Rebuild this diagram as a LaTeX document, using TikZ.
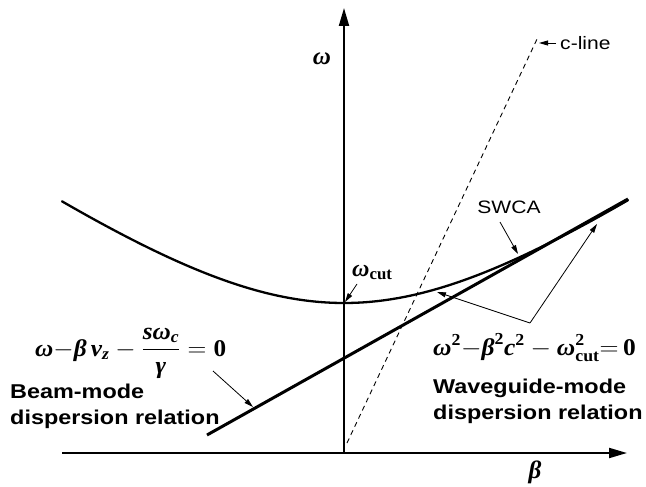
\documentclass[tikz,border=0pt]{standalone}
\usepackage{amsmath}
\usepackage{fontspec}
\setmainfont{Liberation Serif}
\newfontfamily\tnrf{Liberation Serif}
\newfontfamily\arialf{Liberation Sans}
\usetikzlibrary{arrows.meta}
\newcommand\bgi[1]{\text{\tnrf\bfseries\itshape #1}}
\newcommand\bup[1]{\text{\tnrf\bfseries #1}}
\tikzset{
  axis/.style={line width=2pt,-{Triangle[length=18pt,width=10pt]}},
  curve/.style={line width=2.3pt,line cap=round},
  beamline/.style={line width=3pt},
  clinestyle/.style={line width=0.9pt,dash pattern=on 5pt off 4pt},
  arr/.style={line width=0.8pt,-{Triangle[length=9pt,width=5pt]}},
  sanslbl/.style={font=\arialf\fontsize{18}{20}\selectfont,xscale=1.17,inner sep=0pt},
  boldlbl/.style={font=\arialf\bfseries\fontsize{20}{26}\selectfont,align=left,xscale=1.17,inner sep=0pt},
  eqn/.style={font=\tnrf\fontsize{24}{26}\selectfont,inner sep=0pt},
}
\begin{document}
\begin{tikzpicture}[x=1pt,y=-1pt]
\useasboundingbox (0,0) rectangle (646,487);
% axes
\coordinate (o) at (344,453);
\coordinate (xl) at (62,453);
\coordinate (xr) at (627,453);
\coordinate (yt) at (344,8);
\draw[axis] (xl) -- (xr);
\draw[axis] (o) -- (yt);
% c-line
\coordinate (cb) at (347,443);
\coordinate (ct) at (538,37);
\draw[clinestyle] (cb) -- (ct);
% waveguide-mode hyperbola
\draw[curve] plot[domain=-282:284,samples=80,smooth] ({344+\x},{455-100*sqrt(1.52*1.52+(0.0072*\x)*(0.0072*\x))});
% beam line
\coordinate (bl) at (207,435);
\coordinate (br) at (628,199);
\draw[beamline] (bl) -- (br);
% labels
\node[eqn,font=\tnrf\fontsize{25}{27}\selectfont] (om) at (322,59) {$\bgi{ω}$};
\node[eqn,font=\tnrf\fontsize{25}{27}\selectfont] (be) at (535,472) {$\bgi{β}$};
\node[sanslbl,anchor=west] (cl) at (560,43) {c-line};
\node[sanslbl] (sw) at (509,207) {SWCA};
\node[eqn,anchor=base west] (oc) at (352,276) {$\bgi{ω}_{\bup{cut}}$};
\node[eqn,anchor=base west,xscale=1.05] (eq1) at (35,356) {$\displaystyle \bgi{ω}{-}\bgi{β}\,\bgi{v}_{\bgi{z}}-\frac{\bgi{s}\bgi{ω}_{\bgi{c}}}{\bgi{γ}}=\bup{0}$};
\node[eqn,anchor=base west,xscale=1.06] (eq2) at (433,355) {$\bgi{ω}^{\bup{2}}{-}\bgi{β}^{\bup{2}}\bgi{c}^{\bup{2}}-\bgi{ω}^{\bup{2}}_{\bup{cut}}{=}\,\bup{0}$};
\node[boldlbl,anchor=north west] (bm) at (10,384) {Beam-mode\\dispersion relation};
\node[boldlbl,anchor=north west] (wm) at (433,379) {Waveguide-mode\\dispersion relation};
% arrows
\coordinate (ca) at (556,43);
\coordinate (ctip) at (539,43);
\draw[arr] (ca) -- (ctip);
\coordinate (swa) at (500,222);
\coordinate (swt) at (518,254);
\draw[arr] (swa) -- (swt);
\coordinate (oca) at (357,284);
\coordinate (oct) at (345,302);
\draw[arr] (oca) -- (oct);
\coordinate (bma) at (213,371);
\coordinate (bmt) at (253,407);
\draw[arr] (bma) -- (bmt);
\coordinate (wv) at (530,323);
\coordinate (wt1) at (437,292);
\coordinate (wt2) at (597,224);
\draw[arr] (wv) -- (wt1);
\draw[arr] (wv) -- (wt2);
\end{tikzpicture}
\end{document}
